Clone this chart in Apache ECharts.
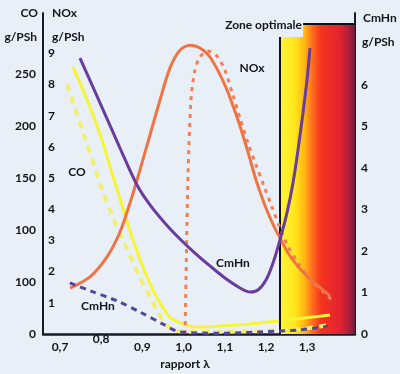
<!DOCTYPE html>
<html><head><meta charset="utf-8">
<script src="https://cdn.jsdelivr.net/npm/echarts@6/dist/echarts.min.js"></script>
<style>html,body{margin:0;padding:0;background:#e9eff6;}#c{width:400px;height:374px;}</style>
</head><body><div id="c"></div>
<script>
// x: rapport lambda
const xTickValues = [0.7, 0.8, 0.9, 1.0, 1.1, 1.2, 1.3];
const xTickLabels = ['0,7', '0,8', '0,9', '1,0', '1,1', '1,2', '1,3'];
// left axis CO (as printed in the source)
const coTickValues = [0, 50, 100, 150, 200, 250];
const coTickLabels = ['0', '100', '100', '150', '200', '250'];
const noxTickValues = [1, 2, 3, 4, 5, 6, 7, 8, 9];
const cmhnTickValues = [0, 1, 2, 3, 4, 5, 6];

// CO solid (g/PSh, left axis)
const coSolidX = [0.7315, 0.7728, 0.8019, 0.8237, 0.8504, 0.8771, 0.9111, 0.9427, 0.9670, 0.9912, 1.0276, 1.0883, 1.1611, 1.2291, 1.3553];
const coSolidY = [256.7, 218.3, 186.5, 157.7, 124.0, 90.4, 54.8, 29.8, 16.3, 10.6, 6.7, 7.7, 9.6, 12.5, 18.3];
// CO dashed
const coDashX = [0.717, 0.761, 0.804, 0.834, 0.858, 0.894, 0.918, 0.948, 0.974, 1.040, 1.185, 1.283, 1.355];
const coDashY = [240, 188, 137, 107, 86, 54, 36, 14, 3.8, 1.9, 2.9, 4.8, 8.7];
// NOx solid
const noxSolidX = [0.7242, 0.7728, 0.8140, 0.8456, 0.8699, 0.8941, 0.9184, 0.9427, 0.9670, 0.9912, 1.0155, 1.0398, 1.0640, 1.1004, 1.1320, 1.1563, 1.1757, 1.1951, 1.2145, 1.2339, 1.2582, 1.2898, 1.3262, 1.3553];
const noxSolidY = [1.47, 1.83, 2.47, 3.27, 4.20, 5.26, 6.38, 7.50, 8.53, 9.10, 9.26, 9.17, 8.88, 7.98, 6.86, 5.83, 4.94, 4.20, 3.59, 3.08, 2.50, 1.99, 1.54, 1.22];
// NOx dashed
const noxDashX = [1.0034, 1.0058, 1.0106, 1.0179, 1.0276, 1.0398, 1.0592, 1.0786, 1.0980, 1.1174, 1.1369, 1.1563, 1.1757, 1.1951, 1.2145, 1.2339, 1.2533, 1.2776, 1.3068, 1.3359, 1.3602];
const noxDashY = [0, 1.73, 5.03, 7.50, 8.46, 8.88, 9.07, 8.94, 8.53, 7.76, 6.92, 6.12, 5.42, 4.74, 4.07, 3.40, 2.82, 2.28, 1.76, 1.38, 1.09];
// CmHn solid (right axis)
const cmhnSolidX = [0.7485, 0.7970, 0.8456, 0.8869, 0.9184, 0.9548, 0.9912, 1.0276, 1.0640, 1.1004, 1.1369, 1.1611, 1.1805, 1.2000, 1.2170, 1.2339, 1.2509, 1.2655, 1.2776, 1.2898, 1.2995, 1.3068];
const cmhnSolidY = [6.65, 5.57, 4.48, 3.59, 3.11, 2.67, 2.29, 1.95, 1.64, 1.35, 1.11, 1.01, 1.06, 1.30, 1.71, 2.27, 2.92, 3.64, 4.43, 5.33, 6.12, 6.89];
// CmHn dashed
const cmhnDashX = [0.724, 0.773, 0.838, 0.894, 0.950, 0.991, 1.088, 1.185, 1.283, 1.351];
const cmhnDashY = [1.23, 1.04, 0.80, 0.53, 0.24, 0.05, 0.02, 0.05, 0.10, 0.19];

// optimal zone
const zoneStart = 1.234;
const zoneStep = 1.29;
const xMin = 0.6587, xMax = 1.416;

const pairs = (xs, ys) => xs.map((x, i) => [x, ys[i]]);
const F = 'Lato, "Noto Sans", sans-serif';
const txt = (text, x, y, align, valign) => ({
  type: 'text', silent: true,
  style: { text, x, y, align, verticalAlign: valign, textAlign: align, textVerticalAlign: valign,
    font: 'bold 12px ' + F, fill: '#141420' }
});

const grad = (stops) => ({ type: 'linear', x: 0, y: 0, x2: 1, y2: 0, colorStops: stops.map(s => ({ offset: s[0], color: s[1] })) });
const grad1 = grad([[0, '#fff43a'], [0.2, '#ffe61a'], [0.33, '#ffb414'], [0.43, '#ff6e1e'], [0.55, '#f5321e'], [0.8, '#e22430'], [0.92, '#b01e3c'], [1, '#6a1d3d']]);
const grad2 = grad([[0, '#ffc018'], [0.04, '#ffb414'], [0.17, '#ff6e1e'], [0.35, '#f5321e'], [0.71, '#e22430'], [0.88, '#b01e3c'], [1, '#6a1d3d']]);

const axisLine = { show: true, lineStyle: { color: '#1a1a26', width: 2 } };
const lbl = { color: '#141420', fontFamily: F, fontWeight: 'bold', fontSize: 12 };

const chart = echarts.init(document.getElementById('c'), null, { renderer: 'canvas' });
chart.setOption({
  backgroundColor: '#e9eff6',
  animation: false,
  grid: { left: 43, right: 45, top: 13, bottom: 40, containLabel: false, outerBoundsMode: 'none' },
  xAxis: {
    type: 'value', min: xMin, max: xMax,
    axisLine: { show: true, lineStyle: { color: '#1a1a26', width: 2.5 } }, axisTick: { show: false }, splitLine: { show: false },
    axisLabel: Object.assign({}, lbl, {
      customValues: xTickValues, margin: 13, verticalAlign: 'middle',
      formatter: (v) => {
        const i = xTickValues.findIndex(a => Math.abs(a - v) < 1e-6);
        if (i < 0) return '';
        return i === 1 ? '{a|' + xTickLabels[i] + '}\n{b|}' : '{a|' + xTickLabels[i] + '}';
      },
      rich: { a: { lineHeight: 16, fontFamily: F, fontWeight: 'bold', fontSize: 12, color: '#141420' }, b: { lineHeight: 16 } }
    })
  },
  yAxis: [
    { type: 'value', position: 'left', min: 0, max: 308.65,
      axisLine: axisLine, axisTick: { show: false }, splitLine: { show: false },
      axisLabel: Object.assign({}, lbl, { customValues: coTickValues, margin: 7,
        formatter: (v) => { const i = coTickValues.indexOf(v); return i < 0 ? '' : coTickLabels[i]; } }) },
    { type: 'value', position: 'left', min: 0, max: 10.29,
      axisLine: { show: false }, axisTick: { show: false }, splitLine: { show: false },
      axisLabel: Object.assign({}, lbl, { inside: true, customValues: noxTickValues, margin: 5,
        formatter: (v) => noxTickValues.indexOf(v) < 0 ? '' : String(v) }) },
    { type: 'value', position: 'right', min: 0, max: 7.735,
      axisLine: axisLine, axisTick: { show: false }, splitLine: { show: false },
      axisLabel: Object.assign({}, lbl, { customValues: cmhnTickValues, margin: 6,
        formatter: (v) => cmhnTickValues.indexOf(v) < 0 ? '' : String(v) }) }
  ],
  series: [
    { type: 'line', name: 'zone', data: [], xAxisIndex: 0, yAxisIndex: 2, z: 1, silent: true,
      markArea: { silent: true, label: { show: false },
        data: [
          [{ coord: [zoneStart, 7.157], itemStyle: { color: grad1 } }, { coord: [xMax, 0] }],
          [{ coord: [zoneStep, 7.45], itemStyle: { color: grad2 } }, { coord: [xMax, 7.157] }]
        ] },
      markLine: { silent: true, symbol: 'none', label: { show: false },
        lineStyle: { color: '#111', width: 2, type: 'solid' },
        data: [
          [{ coord: [zoneStart, 0] }, { coord: [zoneStart, 7.157] }],
          [{ coord: [zoneStep, 7.47] }, { coord: [xMax, 7.47] }]
        ] } },
    { type: 'line', name: 'CO dashed', yAxisIndex: 0, z: 3, data: pairs(coDashX, coDashY), showSymbol: false, smooth: 0.3,
      lineStyle: { color: '#f1ef72', width: 4, type: [7, 6] } },
    { type: 'line', name: 'CO', yAxisIndex: 0, z: 4, data: pairs(coSolidX, coSolidY), showSymbol: false, smooth: 0.3,
      lineStyle: { color: '#f6f433', width: 3 } },
    { type: 'line', name: 'NOx dashed', yAxisIndex: 1, z: 5, data: pairs(noxDashX, noxDashY), showSymbol: false, smooth: 0.3,
      lineStyle: { color: '#ef8058', width: 3, type: [4, 5] } },
    { type: 'line', name: 'NOx', yAxisIndex: 1, z: 6, data: pairs(noxSolidX, noxSolidY), showSymbol: false, smooth: 0.3,
      lineStyle: { color: '#ef7444', width: 3 } },
    { type: 'line', name: 'CmHn dashed', yAxisIndex: 2, z: 7, data: pairs(cmhnDashX, cmhnDashY), showSymbol: false, smooth: 0.3,
      lineStyle: { color: '#54449a', width: 3, type: [6, 5] } },
    { type: 'line', name: 'CmHn', yAxisIndex: 2, z: 8, data: pairs(cmhnSolidX, cmhnSolidY), showSymbol: false, smooth: 0.3,
      lineStyle: { color: '#6a3c9c', width: 3 } }
  ],
  graphic: [
    txt('CO', 38, 13, 'right', 'middle'),
    txt('g/PSh', 37, 37, 'right', 'middle'),
    txt('NOx', 52, 13, 'left', 'middle'),
    txt('g/PSh', 52, 37, 'left', 'middle'),
    txt('CmHn', 363, 18, 'left', 'middle'),
    txt('g/PSh', 362, 42, 'left', 'middle'),
    txt('Zone optimale', 302, 25, 'right', 'middle'),
    txt('CO', 77, 172, 'center', 'middle'),
    txt('CmHn', 98, 306, 'center', 'middle'),
    txt('CmHn', 233, 263, 'center', 'middle'),
    txt('NOx', 252, 68, 'center', 'middle'),
    txt('rapport λ', 185, 364, 'center', 'middle')
  ]
});
</script></body></html>
